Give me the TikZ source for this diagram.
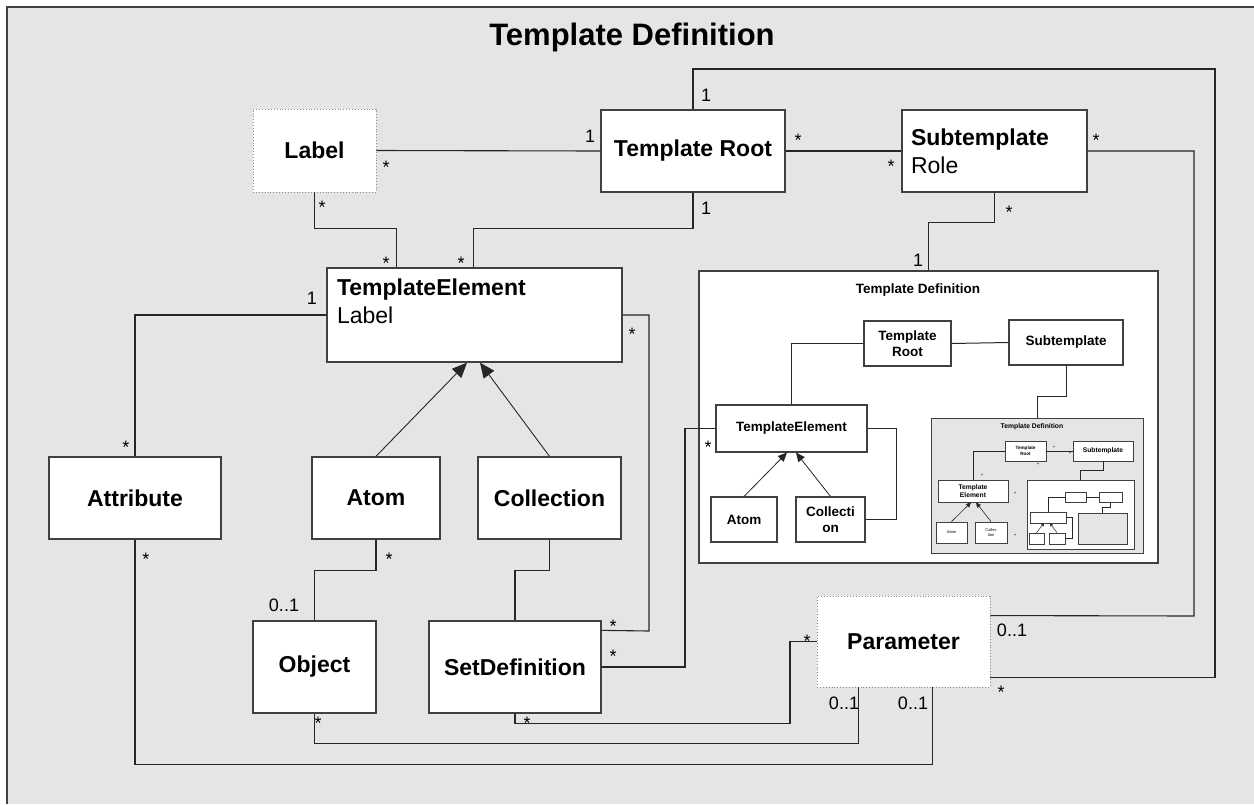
\documentclass[tikz,border=0pt]{standalone}
\usepackage{fontspec}
\setmainfont{Liberation Sans}
\usetikzlibrary{arrows.meta, positioning, calc}
\definecolor{bggray}{HTML}{E5E5E5}
\definecolor{boxline}{HTML}{404040}
\definecolor{wireline}{HTML}{262626}
\definecolor{dotline}{HTML}{8C8C8C}

\begin{document}
\begin{tikzpicture}[x=1pt, y=-1pt,
    cls/.style={draw=boxline, fill=white, line width=1.3pt, inner sep=0pt, align=center,
        font=\bfseries\fontsize{23}{28}\selectfont},
    opt/.style={cls, draw=dotline, line width=0.9pt, dotted},
    sbox/.style={cls, line width=1.1pt, font=\bfseries\fontsize{13.5}{15.5}\selectfont},
    tbox/.style={cls, line width=0.8pt, font=\bfseries\fontsize{6.7}{8}\selectfont},
    ubox/.style={cls, line width=0.6pt},
    mult/.style={inner sep=0pt, font=\fontsize{18}{20}\selectfont},
    mstar/.style={mult, yshift=-4pt},
    wstar/.style={inner sep=0pt, font=\fontsize{5}{6}\selectfont, yshift=-1pt},
    wire/.style={draw=wireline, line width=1.1pt},
    isa/.style={wire, line width=0.9pt, -{Triangle[length=15pt, width=13pt]}},
    sisa/.style={wire, line width=0.8pt, -{Triangle[length=9pt, width=8pt]}},
    tisa/.style={wire, line width=0.6pt, -{Triangle[length=5pt, width=4.5pt]}}]
    \useasboundingbox (0,0) rectangle (1254,804);
    \fill[white] (0,0) rectangle (1254,804);
    \fill[bggray] (7,7) rectangle (1254,804);
    \draw[boxline, line width=1.5pt] (1254,7) -- (7,7) -- (7,804);
    \node[anchor=base, font=\bfseries\fontsize{31}{36}\selectfont] (title) at (632,45) {Template Definition};

    \node[opt, minimum width=123pt, minimum height=83pt] (label) at (314.5,150.5) {Label};
    \node[cls, minimum width=184pt, minimum height=82pt] (root) at (693,151) {Template Root};
    \node[cls, minimum width=185pt, minimum height=82pt, text width=167pt, align=left] (sub) at (994.5,151) {Subtemplate\\{\mdseries Role}};
    \node[cls, minimum width=295pt, minimum height=94pt, text width=275pt, align=left] (elem) at (474.5,315) {TemplateElement\\{\mdseries Label}\\\mbox{}};
    \node[cls, minimum width=172pt, minimum height=82pt] (attr) at (135,498) {Attribute};
    \node[cls, minimum width=128pt, minimum height=82pt] (atom) at (376,498) {Atom};
    \node[cls, minimum width=143pt, minimum height=82pt] (coll) at (549.5,498) {Collection};
    \node[cls, minimum width=123pt, minimum height=92pt] (obj) at (314.5,667) {Object};
    \node[cls, minimum width=172pt, minimum height=92pt] (setdef) at (515,667) {SetDefinition};
    \node[opt, minimum width=173pt, minimum height=91pt] (param) at (903.5,641.5) {Parameter};

    \node[cls, line width=1.2pt, minimum width=459pt, minimum height=292pt] (tdef) at (928.5,417) {};
    \node[anchor=base, font=\bfseries\fontsize{13.5}{16}\selectfont] (tdeft) at (918,293) {Template Definition};
    \node[sbox, minimum width=87pt, minimum height=45pt] (aroot) at (907.5,343.5) {Template\\Root};
    \node[sbox, minimum width=114pt, minimum height=45pt] (asub) at (1066,342.5) {Subtemplate};
    \node[sbox, minimum width=151pt, minimum height=47pt] (aelem) at (791.5,428.5) {TemplateElement};
    \node[sbox, minimum width=66pt, minimum height=45pt] (aatom) at (744,519.5) {Atom};
    \node[sbox, minimum width=69pt, minimum height=45pt] (acoll) at (830.5,519.5) {Collecti\\on};

    \node[tbox, fill=bggray, minimum width=212pt, minimum height=135pt] (bdef) at (1037,485.5) {};
    \node[anchor=base, font=\bfseries\fontsize{6.8}{8}\selectfont] (bdeft) at (1032,428) {Template Definition};
    \node[tbox, minimum width=41pt, minimum height=20pt, font=\bfseries\fontsize{4.6}{5.5}\selectfont] (broot) at (1025.5,451) {Template\\Root};
    \node[tbox, minimum width=60pt, minimum height=20pt] (bsub) at (1103,451) {Subtemplate};
    \node[tbox, minimum width=70pt, minimum height=22pt] (belem) at (973,491) {Template\\Element};
    \node[tbox, minimum width=31pt, minimum height=21pt, font=\fontsize{4}{5}\selectfont] (batom) at (951.5,532.5) {Atom};
    \node[tbox, minimum width=32pt, minimum height=21pt, font=\fontsize{4}{5}\selectfont] (bcoll) at (991,532.5) {Collec\\tion};

    \node[ubox, minimum width=107pt, minimum height=69pt] (cdef) at (1080.5,514.5) {};
    \node[ubox, minimum width=21pt, minimum height=10pt] (croot) at (1075.5,497) {};
    \node[ubox, minimum width=23pt, minimum height=10pt] (csub) at (1110.5,497) {};
    \node[ubox, minimum width=36pt, minimum height=11pt] (celem) at (1048,517.5) {};
    \node[ubox, fill=bggray, minimum width=49pt, minimum height=31pt] (ddef) at (1102.5,528.5) {};
    \node[ubox, minimum width=15pt, minimum height=11pt] (catom) at (1036.5,538.5) {};
    \node[ubox, minimum width=16pt, minimum height=11pt] (ccoll) at (1057,538.5) {};

    \draw[wire] (label.east) -- (root.west);
    \draw[wire] (label.south) -- ++(0,36) -| ([xshift=70pt]elem.north west);
    \draw[wire] (root.south) -- ++(0,36) -| ([xshift=147pt]elem.north west);
    \draw[wire] (root.north) |- (1215,69) |- ([yshift=10pt]param.south east);
    \draw[wire] (root.east) -- (sub.west);
    \draw[wire] (sub.east) -| (1194,616) -- ([yshift=-20pt]param.north east);
    \draw[wire] (sub.south) -- ++(0,30) -| (tdef.north);
    \draw[wire] (elem.west) -| (attr.north);
    \draw[wire] (elem.east) -| (649,631) -- ([yshift=-10pt]setdef.north east);
    \draw[wire] (setdef.east) -- (685,667) |- (aelem.west);
    \draw[isa] (atom.north) -- ([xshift=-7.5pt]elem.south);
    \draw[isa] (coll.north) -- ([xshift=5.5pt]elem.south);
    \draw[wire] (atom.south) -- ++(0,31) -| (obj.north);
    \draw[wire] (coll.south) -- ++(0,31) -| (setdef.north);
    \draw[wire] (setdef.south) -- ++(0,10) -| (790,641.5) -- (param.west);
    \draw[wire] (obj.south) -- ++(0,30) -| ([xshift=42pt]param.south west);
    \draw[wire] (attr.south) -- ++(0,225) -| ([xshift=116pt]param.south west);

    \draw[wire, line width=1pt] (aroot.west) -| (aelem.north);
    \draw[wire, line width=1pt] (aroot.east) -- (asub.west);
    \draw[wire, line width=1pt] (asub.south) -- ++(0,31) -| (bdef.north);
    \draw[wire, line width=1pt] (aelem.east) -- (896,428.5) |- (acoll.east);
    \draw[sisa] (aatom.north) -- ([xshift=-4.5pt]aelem.south);
    \draw[sisa] (acoll.north) -- ([xshift=4.5pt]aelem.south);

    \draw[wire, line width=0.7pt] (broot.west) -| (belem.north);
    \draw[wire, line width=0.7pt] (broot.east) -- (bsub.west);
    \draw[wire, line width=0.7pt] (bsub.south) -- ++(0,9) -| (cdef.north);
    \draw[tisa] (batom.north) -- ([xshift=-2pt]belem.south);
    \draw[tisa] (bcoll.north) -- ([xshift=3pt]belem.south);

    \draw[wire, line width=0.5pt] (croot.west) -| (celem.north);
    \draw[wire, line width=0.5pt] (croot.east) -- (csub.west);
    \draw[wire, line width=0.5pt] (csub.south) -- ++(0,5) -| (ddef.north);
    \draw[wire, line width=0.5pt] (celem.east) -- (1072,517.5) |- (ccoll.east);
    \draw[wire, line width=0.5pt, -{Triangle[length=3pt, width=3pt]}] (catom.north) -- ([xshift=-4pt]celem.south);
    \draw[wire, line width=0.5pt, -{Triangle[length=3pt, width=3pt]}] (ccoll.north) -- ([xshift=2pt]celem.south);

    \foreach \px/\py [count=\i] in {386/163, 322/203, 386/259, 461/259, 798/136, 891/162,
        1096/136, 1009/208, 126/443, 632/330, 613/622, 613/652, 708/443, 389/555,
        146/555, 527/719, 318/719, 807/637, 1001/688}
        \node[mstar] (s\i) at (\px,\py) {*};
    \foreach \px/\py/\t [count=\i] in {590/136/1, 706/208/1, 706/95/1, 918/260/1, 312/298/1,
        284/605/0..1, 844/703/0..1, 913/703/0..1, 1012/630/0..1}
        \node[mult] (n\i) at (\px,\py) {\t};
    \foreach \px/\py [count=\i] in {1054/447, 1070/453, 1038/464, 982/475, 1015/493, 1015/535}
        \node[wstar] (w\i) at (\px,\py) {*};
\end{tikzpicture}
\end{document}
